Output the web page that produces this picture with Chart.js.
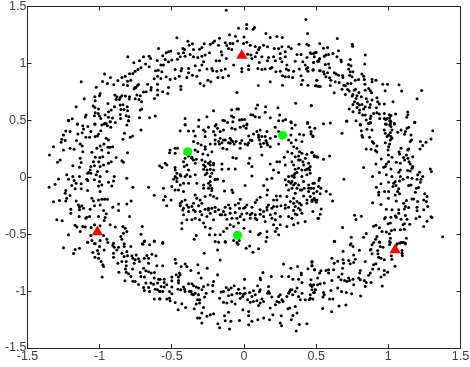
<!DOCTYPE html>
<html>
<head>
<meta charset="utf-8">
<style>
html, body { margin: 0; padding: 0; background: #fff; }
#wrap { width: 470px; height: 367px; }
</style>
<script src="https://cdn.jsdelivr.net/npm/chart.js@4/dist/chart.umd.min.js"></script>
</head>
<body>
<div id="wrap"><canvas id="scatter"></canvas></div>
<script>
// points, region by region
const outerTopLeft = [[-.592,1.131],[-.657,1.064],[-.696,1.058],[-.647,1.043],[-.724,1.023],[-.763,1.005],[-.601,1.026],[-.682,.994],[-.657,.97],[-.714,.961],[-.735,.947],[-.754,.932],[-.77,.912],[-.793,.909],[-.823,.888],[-.846,.877],[-.874,.85],[-.925,.877],[-.98,.842],[-.946,.824],[-.902,.812],[-.835,.812],[-.807,.844],[-.784,.853],[-.807,.806],[-.731,.815],[-.749,.789],[-.761,.777],[-.805,1.058],[-1.128,.84],[-.966,.906],[-1.024,.79],[-1.107,.69],[-1.163,.62],[-1.216,.5],[-1.19,.514],[-1.094,.546],[-.756,.786],[-.738,.806],[-.668,.818],[-.599,.818],[-.643,.789],[-.622,.865],[-.599,.888],[-.613,.935],[-.594,.941],[-.599,.766],[-.645,.766],[-.678,.751],[-.696,.748],[-.719,.716],[-.742,.722],[-.754,.69],[-.728,.684],[-.793,.707],[-.821,.713],[-.846,.716],[-.858,.701],[-.881,.707],[-.895,.722],[-.885,.684],[-.864,.684],[-.997,.736],[-1.001,.716],[-1.033,.707],[-1.031,.672],[-.795,.687],[-.62,.692],[-.599,.722],[-.943,.648],[-1.045,.625],[-1.033,.613],[-1.008,.599],[-.92,.59],[-.939,.575],[-.897,.619],[-.858,.634],[-.839,.637],[-.853,.596],[-.832,.596],[-.809,.619],[-.807,.584],[-.719,.59],[-.708,.599],[-.71,.663],[-1.031,.566],[-1.01,.561],[-1.036,.54],[-1.001,.537],[-.992,.517],[-.962,.546],[-.939,.526],[-.911,.52],[-.927,.488],[-.892,.48],[-.858,.552],[-.855,.517],[-.816,.54],[-.798,.532],[-.8,.496],[-.724,.523],[-.654,.523],[-.615,.537],[-1.1,.53],[-1.154,.467],[-.969,.467],[-.955,.473],[-1.033,.467]];
const outerLeft = [[-1.216,.497],[-1.154,.465],[-1.117,.453],[-1.082,.445],[-1.033,.465],[-.985,.459],[-.962,.474],[-.927,.488],[-.946,.453],[-.923,.439],[-.8,.497],[-.812,.459],[-1.112,.424],[-1.061,.401],[-1.151,.38],[-1.121,.392],[-1.235,.407],[-1.205,.401],[-1.251,.371],[-1.262,.333],[-1.267,.307],[-1.239,.322],[-1.32,.269],[-1.251,.24],[-1.205,.254],[-1.177,.246],[-1.161,.322],[-1.135,.292],[-1.121,.275],[-1.096,.351],[-1.07,.351],[-1.031,.357],[-1.008,.38],[-.992,.409],[-1.015,.363],[-.955,.342],[-.939,.327],[-.971,.292],[-.997,.275],[-1.02,.254],[-.985,.24],[-.943,.263],[-.927,.263],[-.909,.269],[-1.054,.219],[-1.117,.225],[-.939,.216],[-.839,.333],[-.828,.386],[-.788,.351],[-.772,.363],[-.714,.415],[-.807,.216],[-1.348,.196],[-1.274,.152],[-1.292,.132],[-1.186,.102],[-1.135,.167],[-1.128,.129],[-1.14,.088],[-1.031,.176],[-1.043,.137],[-.999,.173],[-.978,.181],[-1.006,.137],[-.886,.173],[-.92,.137],[-.939,.123],[-.846,.146],[-.835,.132],[-.973,.108],[-.997,.094],[-1.036,.102],[-1.061,.094],[-1.066,.064],[-1.077,.041],[-1.015,.05],[-1.024,.021],[-.95,.05],[-1.061,.035],[-1.084,.035],[-1.228,.021],[-1.285,-.015],[-1.216,-.017],[-1.186,.006],[-1.14,.006],[-1.177,-.029],[-1.089,-.017],[-1.082,-.029],[-1.036,-.023],[-.997,.006],[-1.001,-.038],[-.899,.006],[-.904,-.032],[-.939,-.044],[-.812,-.009],[-1.35,-.088],[-1.309,-.061],[-1.163,-.053],[-1.128,-.058],[-1.193,-.073],[-1.17,-.102],[-1.128,-.102],[-1.084,-.117],[-1.008,-.076],[-.985,-.067],[-.997,-.126],[-.916,-.076],[-.77,-.088],[-.661,-.088],[-.622,-.158],[-.585,.1],[-1.235,-.117],[-1.239,-.14],[-1.205,-.161],[-1.228,-.184],[-1.235,-.208],[-1.32,-.216],[-1.279,-.205],[-1.163,-.208],[-1.147,-.243],[-1.14,-.263],[-1.124,-.251],[-1.2,-.281],[-1.2,-.316],[-1.14,-.286],[-1.112,-.272],[-1.066,-.281],[-1.036,-.251],[-1.054,-.184],[-1.043,-.208],[-1.008,-.199],[-.985,-.193],[-.966,-.193],[-.946,-.193],[-.997,-.243],[-.973,-.292],[-.955,-.321],[-.909,-.263],[-.869,-.234],[-.869,-.292],[-.812,-.234],[-.782,-.208],[-1.142,-.345],[-1.096,-.36],[-1.07,-.345],[-1.089,-.351],[-1.008,-.345],[-.962,-.354],[-.793,-.345],[-1.297,-.374],[-1.26,-.383],[-.969,-.38],[-1.17,-.421],[-1.158,-.438],[-1.117,-.433],[-1.1,-.438],[-1.059,-.441],[-1.036,-.418],[-.997,-.427],[-.927,-.418],[-.892,-.438],[-.839,-.433],[-.823,-.447],[-.705,-.433],[-1.135,-.477],[-1.216,-.506],[-.812,-.477],[-.835,-.491],[-.714,-.5],[-1.061,-.512],[-.973,-.512],[-.853,-.52],[-.846,-.544],[-.95,-.544],[-1.084,-.57],[-.997,-.555],[-.691,-.564],[-.622,-.564],[-.705,-.585],[-.904,-.579],[-1.031,-.585]];
const outerBottomLeft = [[-1.251,-.62],[-1.17,-.635],[-1.14,-.623],[-1.181,-.67],[-1.082,-.57],[-1.054,-.556],[-1.036,-.582],[-1.001,-.608],[-.969,-.638],[-.943,-.573],[-.909,-.6],[-.899,-.614],[-.869,-.614],[-.83,-.608],[-.784,-.608],[-.881,-.638],[-.83,-.585],[-1.047,-.661],[-1.015,-.644],[-1.008,-.673],[-1.033,-.702],[-1.008,-.711],[-.99,-.74],[-.978,-.769],[-.973,-.784],[-.983,-.877],[-.904,-.667],[-.904,-.702],[-.846,-.667],[-.812,-.652],[-.83,-.696],[-.807,-.69],[-.777,-.69],[-.747,-.682],[-.731,-.717],[-.673,-.687],[-.638,-.676],[-.61,-.69],[-.661,-.711],[-.691,-.711],[-.754,-.725],[-.77,-.711],[-.874,-.755],[-.846,-.74],[-.816,-.74],[-.761,-.755],[-.724,-.74],[-.661,-.755],[-.604,-.778],[-.816,-.778],[-.821,-.807],[-.867,-.834],[-.816,-.834],[-.8,-.848],[-.784,-.872],[-.772,-.807],[-.696,-.799],[-.68,-.822],[-.661,-.831],[-.643,-.842],[-.62,-.837],[-.719,-.837],[-.714,-.872],[-.69,-.877],[-.622,-.886],[-.592,-.895],[-.825,-.91],[-.77,-.913],[-.754,-.915],[-.731,-.942],[-.68,-.93],[-.645,-.93],[-.627,-.939],[-.599,-.93],[-.696,-.968],[-.661,-.968],[-.691,-.994],[-.654,-1.003],[-.615,-.983],[-.599,-.989],[-.585,-1.003],[-.622,-1.07],[-.585,-1.068],[-.7,-.588],[-.654,-.594],[-.689,-.559],[-.622,-.559]];
const outerTop = [[-.123,1.467],[.429,1.385],[.018,1.342],[-.038,1.309],[.018,1.306],[.073,1.315],[.064,1.301],[.441,1.263],[.152,1.263],[.182,1.228],[.228,1.236],[.265,1.228],[0,1.233],[-.059,1.239],[-.1,1.251],[-.17,1.222],[-.465,1.225],[-.389,1.195],[-.357,1.172],[-.38,1.16],[-.276,1.172],[-.234,1.169],[-.216,1.181],[-.204,1.198],[-.176,1.16],[-.13,1.181],[-.119,1.157],[-.096,1.175],[-.077,1.175],[-.045,1.198],[-.003,1.175],[.02,1.187],[.043,1.16],[.078,1.149],[.108,1.14],[.136,1.16],[.163,1.146],[.21,1.131],[.24,1.131],[.263,1.146],[.309,1.146],[.327,1.131],[.381,1.169],[.436,1.169],[.448,1.16],[.524,1.175],[-.563,1.067],[-.539,1.093],[-.523,1.102],[-.507,1.108],[-.546,1.035],[-.424,1.131],[-.412,1.122],[-.454,1.087],[-.419,1.093],[-.408,1.064],[-.442,1.058],[-.461,1.037],[-.5,1.029],[-.523,1.014],[-.373,1.078],[-.35,1.122],[-.308,1.125],[-.292,1.14],[-.32,1.052],[-.35,1.058],[-.292,1.064],[-.269,1.073],[-.239,1.093],[-.28,1.014],[-.292,.985],[-.338,.979],[-.384,.956],[-.193,1.023],[-.17,1.023],[-.158,1.102],[-.153,1.073],[-.123,1.043],[-.107,1.131],[-.084,1.122],[.078,1.058],[.055,1.043],[.089,1.093],[.101,1.122],[.025,1.081],[.048,1.073],[.124,1.058],[.17,1.052],[.163,1.023],[.205,1.058],[.217,1.023],[.106,1.008],[.251,1.087],[.251,1.043],[.286,1.102],[.286,1.058],[.263,1.014],[.297,.985],[.355,1.02],[.367,1.078],[.395,1.078],[.436,1.052],[.408,1.014],[.424,.985],[.441,.964],[.459,1.093],[.489,1.093],[.482,1.008],[.524,1.043],[.517,1.02],[-.576,.985],[-.558,.985],[-.569,.926],[-.576,.868],[-.539,.882],[-.512,.859],[-.477,.868],[-.477,.947],[-.431,.956],[-.436,.935],[-.449,.888],[-.396,.877],[-.384,.918],[-.357,.897],[-.327,.888],[-.308,.941],[-.257,.95],[-.223,.956],[-.216,.935],[-.188,.932],[-.158,.941],[-.13,.95],[-.107,.891],[-.146,.877],[-.181,.877],[-.25,.853],[-.23,.839],[-.304,.824],[-.278,.803],[-.438,.8],[-.438,.771],[-.523,.789],[-.563,.751],[-.528,.736],[-.072,.985],[-.015,.956],[-.015,.926],[.032,.979],[.032,.947],[.096,.956],[.124,.947],[.147,.95],[.182,.956],[.193,.964],[.221,.926],[.251,.932],[.267,.891],[.293,.95],[.309,.941],[.286,.882],[.309,.882],[.337,.877],[.344,.932],[.383,.95],[.395,.891],[.406,.853],[.432,.95],[.443,.932],[.478,.941],[.524,.935],[.397,.815],[.443,.809],[.505,.853],[.501,.803],[.522,.8],[.099,.806],[.182,.839],[.267,.809],[-.049,.745]];
const outerTopRight = [[.646,1.219],[.75,1.169],[.753,1.151],[.551,1.134],[.579,1.14],[.655,1.111],[.84,1.073],[.464,1.087],[.482,1.087],[.5,1.096],[.487,1.058],[.521,1.037],[.482,1.008],[.51,1.02],[.568,1.073],[.556,1.064],[.586,1.078],[.616,1.087],[.644,1.058],[.672,1.029],[.674,1.014],[.736,1.035],[.725,.991],[.741,.979],[.836,.994],[.563,.991],[.586,.994],[.593,.961],[.48,.947],[.528,.935],[.551,.926],[.556,.906],[.579,.918],[.568,.883],[.593,.874],[.602,.853],[.625,.918],[.639,.906],[.655,.897],[.683,.894],[.686,.877],[.725,.95],[.736,.926],[.755,.926],[.732,.897],[.748,.882],[.771,.853],[.794,.859],[.817,.906],[.829,.888],[.834,.859],[.838,.818],[.887,.862],[.914,.853],[.887,.839],[.961,.818],[.995,.818],[1.074,.812],[.503,.853],[.496,.803],[.514,.8],[.528,.798],[.598,.806],[.632,.839],[.66,.833],[.625,.742],[.679,.774],[.692,.809],[.702,.803],[.718,.824],[.741,.824],[.718,.771],[.729,.757],[.702,.728],[.764,.765],[.773,.774],[.796,.745],[.755,.728],[.75,.713],[.783,.716],[.776,.692],[.813,.707],[.84,.765],[.864,.78],[.875,.76],[.884,.742],[.978,.76],[1.092,.757],[1.231,.763],[1.199,.69],[.766,.663],[.787,.649],[.755,.64],[.799,.634],[.817,.64],[.847,.689],[.854,.663],[.887,.678],[.921,.698],[.926,.663],[.938,.643],[.972,.643],[1.032,.663],[.875,.64],[.87,.613],[.84,.619],[.917,.61],[.783,.613],[.729,.599],[.755,.575],[.801,.59],[.799,.567],[.829,.599],[.84,.546],[.822,.546],[.898,.561],[.921,.567],[.938,.555],[.972,.561],[1.007,.549],[1.018,.543],[1.051,.555],[1.134,.573],[1.136,.549],[1.127,.526],[1.183,.482],[.88,.537],[.875,.517],[.847,.502],[.94,.517],[.972,.517],[.991,.517],[1.009,.52],[1.009,.497],[.981,.508],[1.018,.488],[1.014,.467],[1.042,.473],[.979,.467],[.864,.473],[.875,.476],[.776,.497],[.711,.491],[.598,.476],[.551,.47],[.806,.464],[.466,.631]];
const outerRight = [[.713,.494],[.806,.459],[.864,.474],[.875,.48],[.852,.421],[.887,.415],[.813,.409],[.817,.366],[.822,.351],[.87,.351],[.889,.313],[.898,.298],[.921,.275],[.847,.249],[.88,.246],[.91,.234],[.921,.222],[.972,.415],[.979,.386],[.991,.357],[1.014,.494],[.986,.465],[1.009,.459],[1.018,.445],[1.042,.468],[1.025,.415],[1.014,.392],[1.002,.371],[1.018,.357],[1.025,.342],[.979,.304],[1.014,.327],[1.009,.292],[1.002,.269],[.998,.24],[1.065,.395],[1.088,.415],[1.118,.401],[1.129,.43],[1.141,.439],[1.113,.377],[1.157,.371],[1.16,.327],[1.152,.313],[1.183,.483],[1.308,.409],[1.296,.336],[1.261,.307],[1.222,.313],[1.238,.278],[1.22,.249],[1.088,.254],[1.074,.225],[1.078,.205],[1.141,.249],[1.134,.24],[1.125,.196],[1.106,.173],[1.113,.152],[1.136,.167],[1.143,.137],[1.169,.181],[1,.196],[1.025,.176],[1.002,.137],[.986,.117],[.968,.088],[.951,.161],[.914,.117],[.829,.085],[1.055,.132],[1.083,.123],[1.152,.117],[1.169,.094],[1.164,.079],[1.018,.073],[.979,.094],[1.083,.064],[1.072,.044],[1.134,.059],[1.152,.056],[1.217,.044],[1.203,.021],[1.291,.073],[1.298,.05],[.938,.041],[.986,.021],[1.025,.006],[1.083,.006],[.891,.006],[1.134,0],[1.164,-.009],[1.199,-.017],[1.238,.006],[1.226,-.017],[1.222,-.044],[1.102,-.017],[1.078,-.032],[1.048,-.038],[1.002,-.044],[1.037,-.053],[1.053,-.073],[.949,-.058],[.917,-.088],[1.141,-.073],[1.157,-.067],[1.194,-.096],[1.21,-.091],[1.187,-.132],[.933,-.132],[.933,-.155],[.974,-.126],[1.002,-.126],[1.032,-.082],[1.072,-.102],[1.065,-.126],[1.078,-.146],[1.048,-.155],[1,-.184],[1.252,-.146],[1.268,-.17],[1.245,-.199],[1.263,-.213],[1.164,-.19],[1.176,-.19],[1.203,-.213],[1.125,-.205],[1.106,-.228],[1.055,-.208],[.891,-.225],[.949,-.24],[1.199,-.263],[1.273,-.257],[1.118,-.257],[1.141,-.266],[1.111,-.278],[.986,-.281],[1.025,-.286],[1.072,-.286],[1.072,-.316],[1.199,-.295],[1.245,-.286],[1.018,-.351],[.979,-.354],[.974,-.365],[1.048,-.339],[1.055,-.351],[1.118,-.336],[1.088,-.368],[1.129,-.368],[1.192,-.363],[1.217,-.348],[1.296,-.348],[1.303,-.354],[1.268,-.386],[1.245,-.433],[.998,-.409],[1.014,-.403],[1.111,-.409],[1.102,-.418],[1.148,-.412],[.898,-.43],[.914,-.421],[.938,-.444],[.956,-.477],[.986,-.482],[1.007,-.497],[1.021,-.468],[1.044,-.462],[1.083,-.462],[1.111,-.456],[1.125,-.535],[.847,-.494],[.829,-.526],[.921,-.52],[.912,-.544],[1.014,-.535],[1.377,-.523],[.743,-.526],[.683,-.441],[.766,-.333],[.776,-.371],[.813,-.342],[.692,-.017],[.628,-.564],[.94,-.57],[1.014,-.573],[1.06,-.585],[1.088,-.573],[1.106,-.573],[1.118,-.585],[.741,-.585]];
const outerBottom = [[-.176,-.57],[-.13,-.57],[-.072,-.556],[-.033,-.556],[-.042,-.588],[.152,-.565],[.039,-.603],[.015,-.623],[.101,-.629],[.062,-.658],[-.276,-.667],[-.183,-.638],[-.165,-.728],[-.563,-.579],[-.477,-.72],[-.472,-.755],[-.563,-.778],[-.435,-.784],[-.408,-.763],[-.396,-.784],[-.368,-.819],[-.32,-.769],[-.255,-.799],[-.315,-.842],[-.183,-.857],[-.297,-.886],[-.47,-.857],[-.447,-.842],[-.454,-.877],[-.442,-.857],[-.5,-.877],[-.5,-.91],[-.553,-.895],[-.581,-.895],[-.553,-.924],[-.574,-.959],[-.553,-.965],[-.581,-1.003],[-.563,-1.003],[-.5,-.965],[-.454,-.907],[-.454,-.93],[-.458,-.983],[-.419,-.965],[-.412,-.983],[-.408,-1.003],[-.384,-.936],[-.361,-.936],[-.35,-.954],[-.331,-.965],[-.315,-.974],[-.28,-.959],[-.25,-.945],[-.211,-.916],[-.216,-.951],[-.216,-1.003],[-.366,-1.003],[-.361,-1.027],[-.338,-1.018],[-.315,-1.032],[-.273,-1.053],[-.5,-1.024],[-.581,-1.07],[-.535,-1.07],[-.516,-1.062],[-.512,-1.085],[-.477,-1.1],[-.431,-1.111],[-.456,-1.164],[-.405,-1.144],[-.345,-1.155],[-.322,-1.076],[-.331,-1.114],[-.308,-1.105],[-.28,-1.144],[-.292,-1.193],[-.322,-1.237],[-.306,-1.237],[-.292,-1.281],[-.257,-1.222],[-.234,-1.208],[-.211,-1.199],[-.169,-1.062],[-.158,-1.009],[-.142,-1.003],[-.123,-.968],[-.089,-.974],[-.068,-.954],[-.038,-.983],[-.049,-1.018],[.004,-.895],[-.107,-1.041],[-.142,-1.097],[-.119,-1.105],[-.084,-1.091],[-.061,-1.114],[-.01,-1.047],[-.026,-1.062],[-.003,-1.027],[.008,-1.018],[.039,-1.012],[.055,-1.047],[.043,-1.097],[.066,-1.091],[.101,-1.126],[.089,-1.085],[.124,-1.07],[.136,-1.091],[.17,-1.003],[.177,-1.018],[.106,-1.003],[.094,-.954],[.066,-.997],[.115,-.901],[.112,-.886],[.131,-.837],[.189,-.872],[.17,-.959],[.193,-1.053],[.112,-1.105],[.182,-1.149],[.228,-1.091],[.244,-1.097],[.263,-1.076],[.217,-1.12],[.27,-1.091],[.251,-1.032],[.24,-1.047],[.297,-1.047],[.316,-1.003],[.332,-.989],[.309,-1.018],[.337,-1.032],[.367,-.974],[.402,-1.018],[.378,-1.047],[.263,-.872],[.309,-.872],[.274,-.763],[.325,-.799],[.371,-.784],[.339,-.895],[.378,-.895],[.402,-.924],[.397,-.842],[.397,-.857],[.443,-.804],[.471,-.746],[.471,-.778],[.489,-.813],[.524,-.842],[.464,-.901],[.464,-.951],[.482,-.945],[.51,-.945],[.494,-.989],[.482,-1.012],[.459,-1.032],[.452,-1.076],[.424,-1.076],[.39,-1.076],[.316,-1.149],[.304,-1.155],[.355,-1.135],[.367,-1.193],[.339,-1.214],[.328,-1.252],[.258,-1.217],[.251,-1.281],[.26,-1.304],[.362,-1.351],[.383,-1.293],[.436,-1.287],[-.181,-1.287],[-.169,-1.322],[-.1,-1.334],[-.13,-1.261],[-.135,-1.217],[-.107,-1.187],[-.091,-1.266],[-.031,-1.258],[-.008,-1.164],[.032,-1.179],[.032,-1.217],[.055,-1.266],[.032,-1.296],[.096,-1.252],[.136,-1.237],[.177,-1.252],[.2,-1.208],[.002,-.974],[-.535,-.945],[-.516,-1.003],[-.438,-.989],[-.378,-1.003],[-.35,-1.032],[-.292,-.989],[-.308,-1.076],[-.262,-1.018],[-.107,-.989],[-.084,-1.032],[-.026,-1.018],[.025,-1.076],[.078,-1.032],[.112,-.989],[.163,-1.018],[.321,-.989],[.355,-1.003],[.471,-.989]];
const outerBottomRight = [[.625,-.562],[.736,-.594],[.755,-.608],[.686,-.649],[.799,-.641],[.609,-.711],[.625,-.755],[.649,-.737],[.686,-.725],[.69,-.755],[.725,-.731],[.736,-.76],[.76,-.749],[.771,-.72],[.76,-.682],[.84,-.74],[.887,-.594],[.898,-.573],[.875,-.638],[.887,-.673],[.88,-.632],[.938,-.568],[.944,-.608],[.963,-.614],[.926,-.644],[.928,-.673],[.933,-.702],[.949,-.711],[.972,-.725],[1.009,-.565],[1.009,-.591],[1.053,-.603],[1.078,-.579],[1.095,-.573],[1.118,-.579],[1.021,-.69],[1.025,-.72],[1.095,-.644],[1.095,-.667],[1.097,-.69],[1.046,-.781],[.914,-.76],[.898,-.769],[.891,-.807],[.875,-.842],[.864,-.86],[.933,-.807],[.972,-.819],[.995,-.834],[.972,-.857],[.949,-.877],[.958,-.956],[.84,-.959],[.88,-.924],[.847,-.924],[.834,-.907],[.806,-.819],[.801,-.842],[.794,-.886],[.806,-.901],[.755,-.895],[.76,-.945],[.725,-.886],[.697,-.907],[.672,-.901],[.655,-.877],[.679,-.851],[.683,-.799],[.621,-.813],[.586,-.813],[.568,-.819],[.533,-.822],[.489,-.813],[.51,-.886],[.471,-.74],[.471,-.778],[.586,-.842],[.609,-.907],[.528,-.936],[.556,-.93],[.459,-.945],[.471,-.959],[.494,-.989],[.487,-1.012],[.459,-1.062],[.477,-1.07],[.551,-1.012],[.556,-1.032],[.547,-1.053],[.602,-.994],[.649,-.974],[.676,-1.003],[.709,-1.012],[.746,-1.024],[.808,-1.044],[.593,-1.07],[.616,-1.07],[.545,-1.152],[.607,-1.182],[.658,-1.132],[.706,-1.123],[.713,-.915],[.732,-.907]];
const innerTop = [[.358,.651],[.466,.628],[.094,.634],[.15,.619],[.235,.61],[.083,.605],[-.086,.593],[-.049,.599],[-.038,.599],[-.211,.584],[.147,.57],[.247,.546],[.048,.549],[.062,.546],[.078,.532],[.106,.526],[.182,.523],[-.086,.537],[-.072,.526],[-.257,.532],[-.313,.502],[-.408,.517],[-.146,.5],[-.135,.497],[-.114,.482],[-.077,.488],[-.031,.502],[-.015,.508],[.004,.508],[.24,.497],[.27,.497],[.288,.508],[.328,.479],[.441,.473],[.02,.467],[-.193,.464],[-.408,.464],[.491,.43],[.464,.38],[.477,.357],[.679,.386],[.471,.216],[.487,.19],[.505,.181],[.551,.158],[.593,.187],[.459,.094],[.459,.035],[.524,-.009],[.519,-.029],[.487,-.053],[.517,-.082],[.464,-.096],[.533,-.096],[.482,-.14],[.528,-.146],[.57,-.123],[.598,-.149],[.614,-.208],[.487,-.184],[.471,-.199],[.501,-.219],[.477,-.301],[.535,-.278],[.528,-.325],[.512,-.36]];
const innerRing = [[-.408,.459],[-.442,.409],[-.384,.406],[-.35,.406],[-.338,.363],[-.315,.445],[-.28,.415],[-.269,.401],[-.269,.357],[-.246,.439],[-.2,.45],[-.183,.43],[-.211,.401],[-.2,.371],[-.165,.401],[-.142,.415],[-.084,.43],[-.061,.421],[-.026,.439],[-.003,.45],[.02,.459],[.015,.43],[.112,.415],[.159,.401],[.216,.439],[.325,.488],[.355,.459],[.332,.43],[.441,.48],[.455,.439],[.464,.401],[.478,.363],[.385,.377],[.413,.371],[.325,.371],[.066,.38],[.032,.363],[.101,.351],[.147,.357],[.182,.342],[-.165,.342],[-.176,.313],[-.2,.292],[-.153,.304],[-.13,.327],[-.096,.342],[-.077,.313],[-.096,.298],[-.054,.313],[-.015,.322],[.008,.292],[.032,.304],[.055,.322],[.108,.327],[.112,.292],[.119,.269],[.152,.322],[.163,.284],[.182,.269],[.24,.401],[.309,.327],[.36,.327],[.401,.313],[-.35,.313],[-.32,.298],[-.297,.284],[-.269,.269],[-.234,.292],[-.223,.225],[-.146,.254],[-.119,.246],[-.026,.254],[-.477,.254],[-.461,.254],[-.512,.24],[-.516,.216],[-.477,.211],[-.338,.24],[-.32,.225],[-.285,.205],[-.269,.246],[-.25,.196],[-.384,.187],[-.408,.167],[-.419,.137],[-.361,.176],[-.35,.152],[-.331,.158],[-.292,.152],[-.234,.137],[-.211,.123],[-.153,.117],[-.077,.173],[-.054,.167],[.039,.167],[.032,.123],[.124,.196],[.182,.117],[.228,.137],[.247,.137],[.302,.225],[.332,.211],[.355,.181],[.378,.187],[.408,.137],[.436,.202],[.471,.219],[.489,.181],[.51,.176],[.279,.175],[.332,.137],[.286,.108],[.344,.108],[.39,.152],[.413,.108],[-.546,.123],[-.535,.108],[-.569,.085],[-.477,.085],[-.396,.108],[-.384,.064],[-.414,.094],[-.269,.094],[-.257,.064],[-.234,.07],[-.211,.064],[-.153,.07],[-.107,.073],[-.061,.073],[.055,.094],[.055,.012],[.205,.064],[.24,.041],[.355,.07],[.378,.079],[.401,.064],[.425,.064],[.448,.079],[.332,.012],[.367,.041],[.348,.021],[.436,.021],[.401,.006],[-.465,.035],[-.477,.006],[-.465,-.038],[-.488,-.017],[-.438,.012],[-.396,.021],[-.373,.006],[-.338,.021],[-.28,.07],[-.269,.021],[-.234,.006],[-.2,-.023],[-.183,-.017],[-.142,-.032],[-.234,-.073],[-.246,-.096],[-.419,-.053],[-.384,-.053],[-.327,-.053],[-.28,-.067],[-.5,-.082],[-.454,-.111],[-.558,-.096],[-.419,-.126],[-.338,-.155],[-.223,-.117],[-.211,-.17],[-.234,-.155],[-.188,-.184],[-.135,-.12],[-.084,-.111],[-.077,-.134],[.008,-.073],[.136,-.073],[.163,-.111],[.159,-.017],[.193,-.009],[.286,-.023],[.309,.006],[.293,-.067],[.332,-.038],[.355,-.053],[.378,-.067],[.413,-.038],[.448,-.067],[.482,-.096],[.505,-.126],[.448,-.126],[.478,-.053],[.309,-.111],[.332,-.096],[.367,-.096],[.401,-.111],[.436,-.199],[.413,-.164],[.297,-.17],[.321,-.213],[.344,-.228],[.355,-.257],[.378,-.272],[.397,-.243],[.436,-.228],[.471,-.213],[.489,-.199],[.224,-.164],[.251,-.164],[.205,-.199],[.159,-.155],[.089,-.199],[.078,-.222],[.055,-.263],[.112,-.175],[-.026,-.193],[.02,-.243],[.008,-.263],[-.031,-.272],[-.061,-.243],[-.107,-.243],[-.13,-.263],[-.142,-.301],[-.096,-.316],[-.061,-.31],[-.015,-.322],[.02,-.316],[.055,-.316],[.078,-.33],[.112,-.286],[.159,-.263],[.193,-.272],[.228,-.257],[.256,-.251],[.286,-.243],[.112,-.325],[.136,-.301],[.182,-.33],[.217,-.316],[.309,-.345],[.332,-.36],[.367,-.33],[.401,-.316],[.424,-.389],[.517,-.36],[.205,-.418],[.228,-.447],[.251,-.418],[.297,-.433],[.344,-.418],[.374,-.403],[.112,-.491],[.159,-.477],[.159,-.526],[.217,-.477],[.24,-.506],[.043,-.477],[0,-.447],[-.038,-.403],[-.072,-.433],[-.096,-.418],[-.119,-.447],[-.142,-.477],[-.165,-.506],[-.2,-.506],[-.239,-.506],[-.234,-.447],[-.269,-.438],[-.28,-.403],[-.308,-.374],[-.338,-.36],[-.361,-.374],[-.396,-.374],[-.431,-.403],[-.431,-.453],[-.331,-.512],[-.345,-.544],[-.563,-.573],[-.2,-.564],[-.13,-.564],[-.049,-.573],[.101,-.506],[-.442,-.251],[-.419,-.272],[-.396,-.243],[-.546,-.17],[-.558,-.199],[-.535,-.251],[-.505,-.199],[-.431,-.213],[-.35,-.228],[-.315,-.251],[-.292,-.228],[-.269,-.281],[-.246,-.272],[-.223,-.272],[-.2,-.263],[-.176,-.286],[-.153,-.33],[-.419,-.33],[-.384,-.301],[-.338,-.301],[-.292,-.33],[-.257,-.345],[-.211,-.374],[-.119,-.368],[-.049,-.36],[0,-.374],[.043,-.36],[.089,-.374],[.147,-.389],[.193,-.36],[-.246,.123],[-.234,-.038]];
const innerDense = [[-.2,.328],[-.17,.292],[-.142,.328],[-.107,.304],[-.089,.328],[-.068,.292],[-.026,.298],[.025,.284],[.043,.328],[.089,.401],[.101,.371],[.124,.357],[.136,.298],[.159,.304],[.24,.292],[.217,.357],[.328,.304],[.344,.269],[.367,.254],[.385,.225],[.401,.211],[.378,.152],[.425,.167],[.448,.123],[.436,.07],[.455,.064],[.355,.035],[.348,0],[.309,-.038],[.325,-.053],[.344,-.067],[.39,-.111],[.417,-.096],[.448,-.096],[.355,-.14],[.344,-.184],[.367,-.213],[.385,-.228],[.459,-.17],[.505,-.199],[-.269,.137],[-.28,.108],[-.234,.108],[-.211,.108],[-.257,.035],[-.223,.035],[-.2,-.017],[-.246,-.053],[-.223,-.096],[-.28,-.096],[-.327,-.184],[-.304,-.199],[-.269,-.17],[-.408,.211],[-.361,.167],[-.338,.123],[-.442,.021],[-.408,.006],[-.477,.064],[-.465,-.009],[-.442,-.067],[-.477,-.111],[-.442,-.228],[-.408,-.199],[-.424,-.287],[-.384,-.263],[-.361,-.257],[-.35,-.287],[-.304,-.301],[-.246,-.287],[-.2,-.301],[-.13,-.33],[-.084,-.36],[-.026,-.345],[.043,-.33],[.078,-.36],[.136,-.345],[.159,-.287],[.17,-.243],[.205,-.257],[.228,-.199],[.217,-.374],[.251,-.345],[.286,-.272],[.309,-.263],[.344,-.292],[.355,-.322],[.39,-.287],[-.003,-.272],[-.038,-.228],[-.096,-.272],[-.165,-.33],[-.234,-.316]];
const redPoints = [[-.015,1.07],[-1.016,-.48],[1.047,-.64]];
const greenPoints = [[-.39,.225],[.267,.368],[-.045,-.51]];
const axisTicks = [-1.5,-1,-.5,0,.5,1,1.5];

const blackPoints = [].concat(outerTopLeft, outerLeft, outerBottomLeft, outerTop, outerTopRight, outerRight, outerBottom, outerBottomRight, innerTop, innerRing, innerDense);
const toXY = p => ({ x: p[0], y: p[1] });
const axisColor = "#262626";
const labelColor = "#404040";

function axisOpts(position, showLabels, size) {
    return {
        type: "linear",
        position: position,
        min: -1.5,
        max: 1.5,
        afterBuildTicks: function(axis) { axis.ticks = axisTicks.map(v => ({ value: v })); },
        afterFit: function(axis) {
            if (axis.isHorizontal()) axis.height = size; else axis.width = size;
            // labels may hang over the edge of the plot, no room is kept for them
            axis.paddingLeft = axis.paddingRight = axis.paddingTop = axis.paddingBottom = 0;
        },
        ticks: {
            display: showLabels,
            color: labelColor,
            font: { family: "Liberation Sans", size: 12.5 },
            maxRotation: 0,
            autoSkip: false,
            padding: 5,
            callback: v => String(v)
        },
        grid: { drawOnChartArea: false, tickLength: -4, tickColor: axisColor, tickWidth: 1 },
        border: { color: axisColor, width: 1 }
    };
}

new Chart(document.getElementById("scatter").getContext("2d"), {
    type: "scatter",
    data: {
        datasets: [
            { data: blackPoints.map(toXY), backgroundColor: "#000", borderWidth: 0, pointRadius: 1.5, order: 3, xAxisID: "x", yAxisID: "y" },
            { data: redPoints.map(toXY), backgroundColor: "#ff0000", borderWidth: 0, pointStyle: "triangle", pointRadius: 6.5, order: 2, xAxisID: "x", yAxisID: "y" },
            { data: greenPoints.map(toXY), backgroundColor: "#00ff00", borderWidth: 0, pointRadius: 4.5, order: 1, xAxisID: "x", yAxisID: "y" }
        ]
    },
    options: {
        responsive: true,
        maintainAspectRatio: false,
        animation: false,
        layout: { padding: 0, autoPadding: false },
        plugins: { legend: { display: false }, tooltip: { enabled: false } },
        scales: {
            x: axisOpts("bottom", true, 19),
            y: axisOpts("left", true, 27.5),
            x2: axisOpts("top", false, 6.5),
            y2: axisOpts("right", false, 9.5)
        }
    }
});
</script>
</body>
</html>
